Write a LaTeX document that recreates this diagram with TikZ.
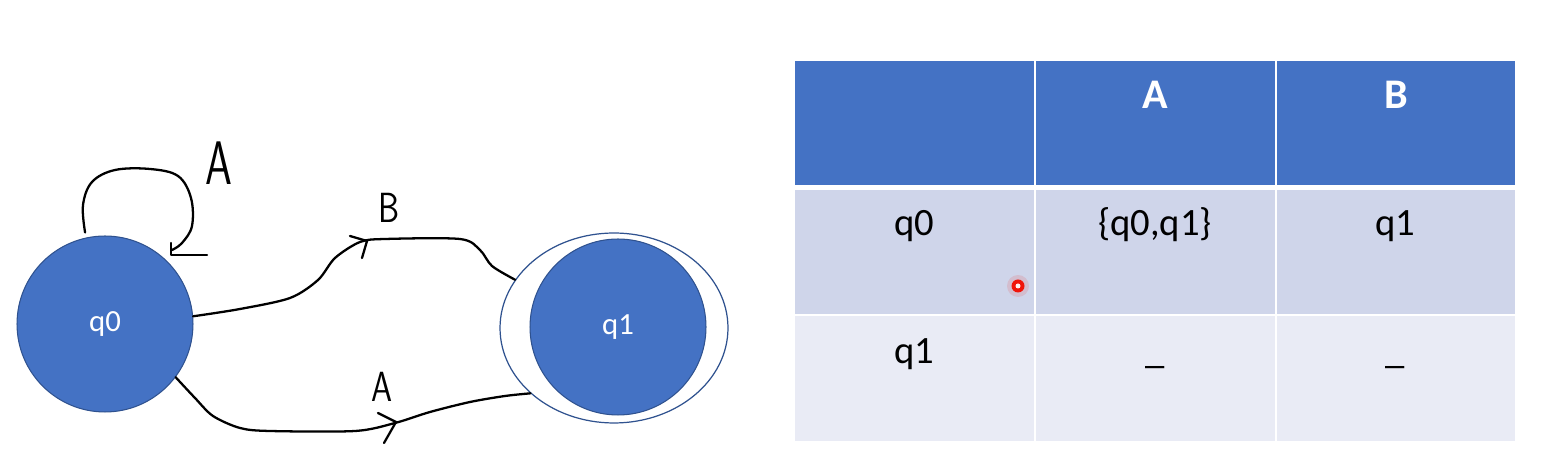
\documentclass[tikz,border=0pt]{standalone}
\usepackage{fontspec}
\setmainfont{Carlito}
\usetikzlibrary{positioning,shapes.geometric}
\definecolor{stateblue}{RGB}{68,114,196}
\definecolor{stateborder}{RGB}{47,82,143}
\definecolor{rowdark}{RGB}{207,213,234}
\definecolor{rowlight}{RGB}{233,235,245}
\definecolor{pointerred}{RGB}{240,20,10}

\begin{document}
\begin{tikzpicture}[x=0.02cm, y=-0.02cm,
    state/.style={circle, fill=stateblue, draw=stateborder, line width=0.6pt, minimum size=3.52cm, inner sep=0pt, text=white, font=\fontsize{17.5}{20}\selectfont},
    accept ring/.style={ellipse, draw=stateborder, line width=0.7pt, minimum width=4.56cm, minimum height=3.8cm, inner sep=0pt},
    hand/.style={line width=1.3pt, line cap=round, line join=round},
    hand label/.style={font=\sffamily\fontsize{24}{28}\selectfont},
    head label/.style={anchor=base, text=white, font=\bfseries\fontsize{24}{28}\selectfont},
    cell label/.style={anchor=base, font=\fontsize{22}{26}\selectfont}
]
\useasboundingbox (0,0) rectangle (1556,475);

% === States ===
\node[state] (q0) at (105,324) {q0};
\node[accept ring] (q1ring) at (614,328) {};
\node[state] (q1) at (618,327) {q1};

% Self loop on q0 (A)
\draw[hand] plot[smooth, tension=0.6] coordinates {([yshift=3pt]q0.103) (83,205) (92,182) (115,170) (150,169) (178,176) (191,198) (192,226) (182,243) (172,250)};
\draw[hand] (171,243) -- (171,255) -- (207,255);
\node[font=\sffamily\fontsize{35}{40}\selectfont] (lblloop) at (219,163) {\scalebox{0.7}[1]{A}};

% q0 -> q1 on B
\draw[hand] plot[smooth, tension=0.5] coordinates {(q0.5) (240,309) (290,298) (318,280) (335,258) (360,242) (385,239) (460,239) (480,250) (492,266) (q1ring.154)};
\draw[hand] (350,236) -- (367,241) -- (362,258);
\node[hand label] (lblB) at (389,208) {\scalebox{0.8}[1]{B}};

% q0 -> q1 on A
\draw[hand] plot[smooth, tension=0.5] coordinates {(q0.-37) (195,398) (213,416) (240,428) (270,431) (355,431) (395,423) (430,412) (470,402) (505,396) (q1ring.218)};
\draw[hand] (378,413) -- (396,422) -- (384,443);
\node[hand label] (lblA) at (382,387) {\scalebox{0.8}[1]{A}};

% === Transition table ===
\fill[stateblue] (795,61) rectangle (1515,185);
\fill[rowdark] (795,190) rectangle (1515,314);
\fill[rowlight] (795,316) rectangle (1515,441);
\draw[white, line width=1.2pt] (1035,61) -- (1035,441);
\draw[white, line width=1.2pt] (1276,61) -- (1276,441);

\node[head label] (hA) at (1155,109) {A};
\node[head label] (hB) at (1396,109) {B};

\node[cell label] (r0) at (914,236) {q0};
\node[cell label] (r0A) at (1155,236) {\{q0,q1\}};
\node[cell label] (r0B) at (1395,236) {q1};

\node[cell label] (r1) at (914,364) {q1};
\node[cell label] (r1A) at (1155,364) {\_};
\node[cell label] (r1B) at (1395,364) {\_};

% Pointer dot
\fill[pointerred, opacity=0.12] (1018,286) circle (11);
\fill[pointerred] (1018,286) circle (6.5);
\fill[white!75!pink] (1018,286) circle (2.5);

\end{tikzpicture}
\end{document}
